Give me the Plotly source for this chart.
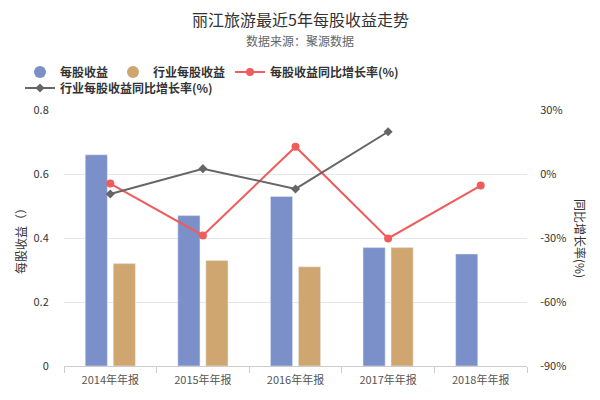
import plotly.graph_objects as go

categories = ["2014年年报", "2015年年报", "2016年年报", "2017年年报", "2018年年报"]
eps = [0.66, 0.47, 0.53, 0.37, 0.35]
industry_eps = [0.32, 0.33, 0.31, 0.37, None]
eps_yoy = [-4.5, -28.8, 12.8, -30.2, -5.4]
industry_yoy = [-9.4, 2.5, -7.0, 19.8, None]
left_ticks = [0, 0.2, 0.4, 0.6, 0.8]
right_ticks = [-90, -60, -30, 0, 30]

BLUE = "#7b8fc8"
TAN = "#cfa66f"
RED = "#f05b5b"
GRAY = "#666666"
FONT = "Noto Sans CJK SC"

W, H = 584, 392  # page body has an 8px margin
L, R, T, B = 56, 65, 102, 34
PW, PH = W - L - R, H - T - B


def px(x):
    return (x - L) / PW


def py(y):
    return (H - B - y) / PH


fig = go.Figure()
fig.add_trace(go.Bar(x=categories, y=eps, name="每股收益", marker_color=BLUE,
                     showlegend=False, offsetgroup="a"))
fig.add_trace(go.Bar(x=categories, y=industry_eps, name="行业每股收益", marker_color=TAN,
                     showlegend=False, offsetgroup="b"))
fig.add_trace(go.Scatter(x=categories, y=eps_yoy, name="每股收益同比增长率(%)", yaxis="y2",
                         mode="lines+markers", line=dict(color=RED, width=2),
                         marker=dict(symbol="circle", size=8, color=RED), showlegend=False))
fig.add_trace(go.Scatter(x=categories, y=industry_yoy, name="行业每股收益同比增长率(%)", yaxis="y2",
                         mode="lines+markers", line=dict(color=GRAY, width=2),
                         marker=dict(symbol="diamond", size=7, color=GRAY), showlegend=False))

# legend proxies
fig.add_trace(go.Scatter(x=[None], y=[None], name="<b>每股收益</b>", mode="markers",
                         marker=dict(symbol="circle", size=12, color=BLUE), legend="legend"))
fig.add_trace(go.Scatter(x=[None], y=[None], name="<b>行业每股收益</b>", mode="markers",
                         marker=dict(symbol="circle", size=12, color=TAN), legend="legend"))
fig.add_trace(go.Scatter(x=[None], y=[None], name="<b>每股收益同比增长率(%)</b>", mode="lines+markers",
                         line=dict(color=RED, width=2), marker=dict(symbol="circle", size=8, color=RED),
                         legend="legend"))
fig.add_trace(go.Scatter(x=[None], y=[None], name="<b>行业每股收益同比增长率(%)</b>", mode="lines+markers",
                         line=dict(color=GRAY, width=2), marker=dict(symbol="diamond", size=7, color=GRAY),
                         legend="legend2"))

legend_common = dict(orientation="h", xanchor="left", yanchor="middle",
                     font=dict(size=12, color="#333"), itemwidth=30, tracegroupgap=0,
                     traceorder="normal", bgcolor="rgba(0,0,0,0)")

fig.update_layout(
    width=W, height=H,
    margin=dict(l=L, r=R, t=T, b=B),
    paper_bgcolor="white", plot_bgcolor="white",
    font=dict(family=FONT, size=11, color="#333"),
    barmode="group", bargap=0.395, bargroupgap=0.21,
    legend=dict(x=px(12), y=py(64), **legend_common),
    legend2=dict(x=px(12), y=py(80), **legend_common),
    xaxis=dict(showline=True, linecolor="#ccc", ticks="outside", tickson="boundaries",
               ticklen=6, tickcolor="#ccc", showgrid=False, ticklabelstandoff=4,
               automargin=False, tickfont=dict(size=11, color="#555")),
    yaxis=dict(range=[0, 0.8], tickvals=left_ticks, ticktext=["0", "0.2", "0.4", "0.6", "0.8"],
               showgrid=True, gridcolor="#e6e6e6", zeroline=False, showline=False, automargin=False,
               tickfont=dict(size=11, color="#333"), ticklen=12, ticks="outside", tickcolor="white"),
    yaxis2=dict(range=[-90, 30], tickvals=right_ticks, ticktext=[f"{v}%" for v in right_ticks],
                overlaying="y", side="right", showgrid=False, zeroline=False, automargin=False,
                tickfont=dict(size=11, color="#333"), ticks="outside", ticklen=10, tickcolor="white"),
    annotations=[
        dict(text="丽江旅游最近5年每股收益走势", x=px(292), y=py(11), xref="paper", yref="paper",
             xanchor="center", yanchor="middle", showarrow=False, font=dict(size=16, color="#333")),
        dict(text="数据来源：聚源数据", x=px(292), y=py(32), xref="paper", yref="paper",
             xanchor="center", yanchor="middle", showarrow=False, font=dict(size=12, color="#666")),
        dict(text="每股收益（）", textangle=-90, x=px(12), y=0.5, xref="paper", yref="paper",
             xanchor="center", yanchor="middle", showarrow=False, font=dict(size=12, color="#333")),
        dict(text="同比增长率(%)", textangle=90, x=px(573), y=0.5, xref="paper", yref="paper",
             xanchor="center", yanchor="middle", showarrow=False, font=dict(size=12, color="#333")),
    ],
)
fig.write_html("out.html")
